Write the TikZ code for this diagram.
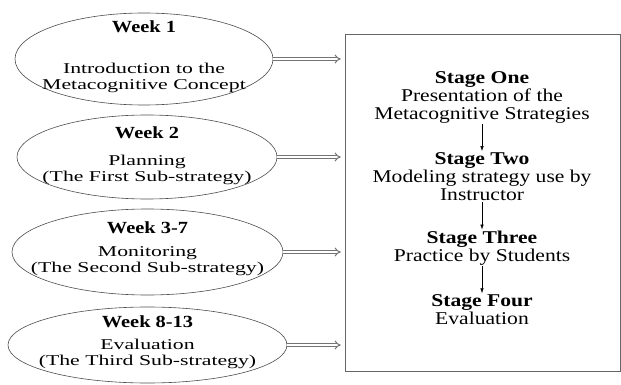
\documentclass[tikz,border=0pt]{standalone}
\usepackage{fontspec}
\setmainfont{Liberation Serif}
\newfontfamily\stagefont[FakeStretch=1.2]{Liberation Serif}
\newfontfamily\weekfont[FakeStretch=1.2]{Liberation Serif}
\newfontfamily\topicfont[FakeStretch=1.45]{Liberation Serif}
\usetikzlibrary{arrows.meta, shapes.geometric, positioning}

\begin{document}
\begin{tikzpicture}[x=1pt, y=-1pt,
  weekstyle/.style = {ellipse, draw=black!70, line width=0.6pt, inner sep=0pt},
  titlestyle/.style = {font=\weekfont\fontsize{17}{17}\selectfont\bfseries, inner sep=0pt},
  topicstyle/.style = {font=\topicfont\fontsize{15}{16}\selectfont, align=center, inner sep=0pt},
  stagestyle/.style = {font=\stagefont\fontsize{18}{18}\selectfont, align=center, inner sep=1pt},
  linkstyle/.style = {draw=black!55, double=white, double distance=2pt, line width=1pt, -{Implies}, shorten >=4pt},
  stepstyle/.style = {-{Latex[length=5pt, width=3.5pt]}, line width=0.6pt}]
  \useasboundingbox (0,0) rectangle (621,385);

  % Week 1
  \node[weekstyle, minimum width=258pt, minimum height=92pt] (week1) at (144,59) {};
  \node[titlestyle] (week1title) at (144,27) {Week 1};
  \node[topicstyle] (week1topic) at (144,78) {Introduction to the\\Metacognitive Concept};

  % Week 2
  \node[weekstyle, minimum width=260pt, minimum height=84pt] (week2) at (147,157) {};
  \node[titlestyle] (week2title) at (147,133) {Week 2};
  \node[topicstyle] (week2topic) at (147,170) {Planning\\(The First Sub-strategy)};

  % Week 3-7
  \node[weekstyle, minimum width=271pt, minimum height=86pt] (week3) at (147.5,252) {};
  \node[titlestyle] (week3title) at (147.5,228) {Week 3-7};
  \node[topicstyle] (week3topic) at (147.5,261) {Monitoring\\(The Second Sub-strategy)};

  % Week 8-13
  \node[weekstyle, minimum width=279pt, minimum height=76pt] (week4) at (147.5,345) {};
  \node[titlestyle] (week4title) at (147.5,322) {Week 8-13};
  \node[topicstyle] (week4topic) at (147.5,354) {Evaluation\\(The Third Sub-strategy)};

  % stages
  \node[draw=black!60, line width=0.6pt, minimum width=275pt, minimum height=337pt, inner sep=0pt] (stages) at (482.5,202.5) {};
  \node[stagestyle] (stage1) at (482,97) {\textbf{Stage One}\\Presentation of the\\Metacognitive Strategies};
  \node[stagestyle, below=27pt of stage1] (stage2) {\textbf{Stage Two}\\Modeling strategy use by\\Instructor};
  \node[stagestyle, below=28pt of stage2] (stage3) {\textbf{Stage Three}\\Practice by Students};
  \node[stagestyle, below=27pt of stage3] (stage4) {\textbf{Stage Four}\\Evaluation};

  % arrows
  \draw [linkstyle] (week1.east) -- (week1.east -| stages.west);
  \draw [linkstyle] (week2.east) -- (week2.east -| stages.west);
  \draw [linkstyle] (week3.east) -- (week3.east -| stages.west);
  \draw [linkstyle] (week4.east) -- (week4.east -| stages.west);
  \draw [stepstyle] (stage1) -- (stage2);
  \draw [stepstyle] (stage2) -- (stage3);
  \draw [stepstyle] (stage3) -- (stage4);

\end{tikzpicture}
\end{document}
